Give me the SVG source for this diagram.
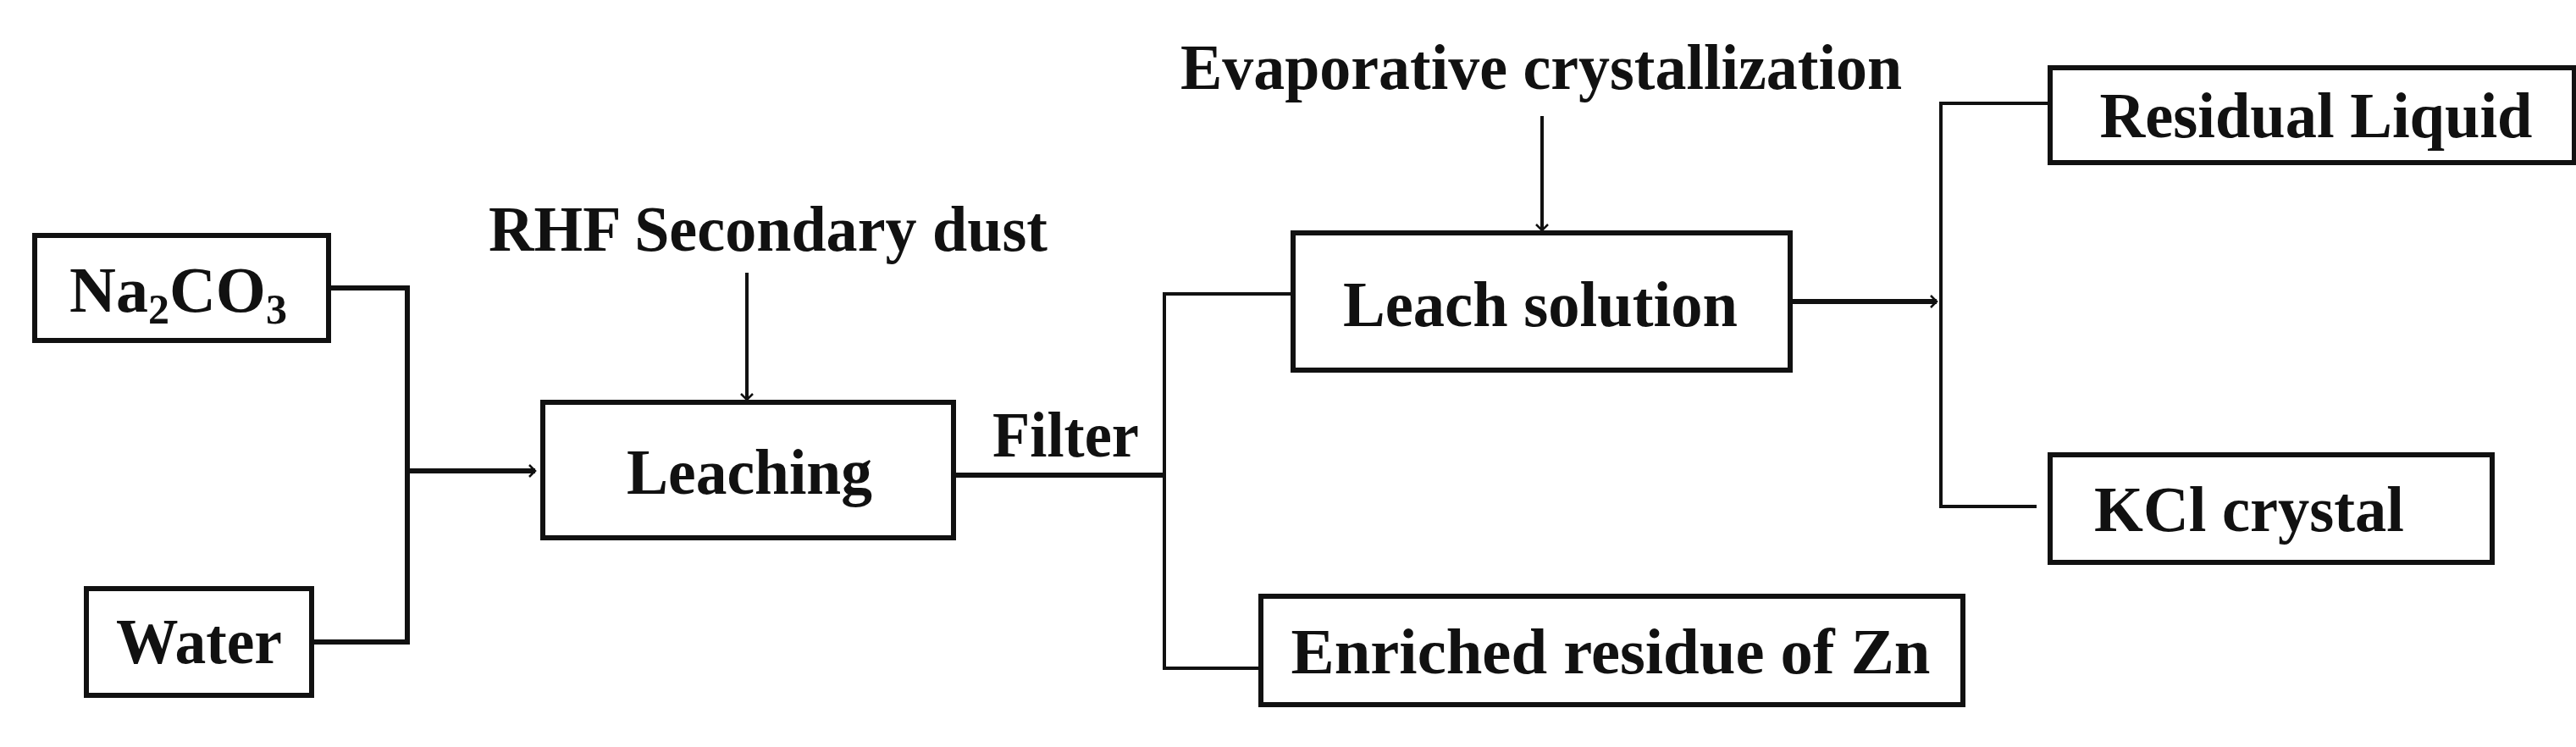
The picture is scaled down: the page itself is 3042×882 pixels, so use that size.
<svg xmlns="http://www.w3.org/2000/svg" width="3042" height="882" viewBox="0 0 3042 882">
<style>
.box{fill:#fff;stroke:#111;stroke-width:6}
.ln{fill:none;stroke:#111;stroke-width:6}
.thin{fill:none;stroke:#111;stroke-width:4}
text{font-family:"Liberation Serif","Times New Roman",serif;font-weight:bold;font-size:76px;fill:#111}
</style>
<defs>
<marker id="ah" viewBox="0 0 10 10" refX="9" refY="5" markerWidth="5" markerHeight="5" orient="auto" markerUnits="userSpaceOnUse" overflow="visible">
<path d="M-14,-14 L0,0 L-14,14" transform="translate(9,5)" fill="none" stroke="#111" stroke-width="5"/>
</marker>
</defs>
<g id="connectors">
<polyline class="ln" points="388,340 481,340 481,758 368,758"/>
<line class="ln" x1="481" y1="556" x2="632" y2="556" marker-end="url(#ah)"/>
<line class="thin" x1="882" y1="322" x2="882" y2="472" marker-end="url(#ah)"/>
<line class="ln" x1="1126" y1="561" x2="1375" y2="561"/>
<polyline class="thin" points="1527,347 1375,347 1375,789 1489,789"/>
<line class="thin" x1="1821" y1="137" x2="1821" y2="272" marker-end="url(#ah)"/>
<line class="ln" x1="2114" y1="356" x2="2287" y2="356" marker-end="url(#ah)"/>
<polyline class="thin" points="2421,122 2292,122 2292,598 2405,598"/>
</g>
<text x="907" y="296" text-anchor="middle" textLength="660" lengthAdjust="spacingAndGlyphs">RHF Secondary dust</text>
<text x="1820" y="105" text-anchor="middle" textLength="852" lengthAdjust="spacingAndGlyphs">Evaporative crystallization</text>
<text x="1172" y="539" textLength="173" lengthAdjust="spacingAndGlyphs">Filter</text>
<g id="na2co3"><rect class="box" x="41" y="278" width="347" height="124"/><text x="82" y="368">Na<tspan font-size="50" dy="14">2</tspan><tspan dy="-14">CO</tspan><tspan font-size="50" dy="14">3</tspan></text></g>
<g id="water"><rect class="box" x="102" y="695" width="266" height="126"/><text x="235" y="783" text-anchor="middle" textLength="196" lengthAdjust="spacingAndGlyphs">Water</text></g>
<g id="leaching"><rect class="box" x="641" y="475" width="485" height="160"/><text x="885" y="583" text-anchor="middle" textLength="290" lengthAdjust="spacingAndGlyphs">Leaching</text></g>
<g id="leach-solution"><rect class="box" x="1527" y="275" width="587" height="162"/><text x="1819" y="385" text-anchor="middle" textLength="466" lengthAdjust="spacingAndGlyphs">Leach solution</text></g>
<g id="enriched"><rect class="box" x="1489" y="704" width="829" height="128"/><text x="1902" y="795" text-anchor="middle" textLength="755" lengthAdjust="spacingAndGlyphs">Enriched residue of  Zn</text></g>
<g id="residual"><rect class="box" x="2421" y="80" width="619" height="112"/><text x="2735" y="162" text-anchor="middle" textLength="511" lengthAdjust="spacingAndGlyphs">Residual Liquid</text></g>
<g id="kcl"><rect class="box" x="2421" y="537" width="522" height="127"/><text x="2656" y="627" text-anchor="middle" textLength="366" lengthAdjust="spacingAndGlyphs">KCl crystal</text></g>
</svg>
